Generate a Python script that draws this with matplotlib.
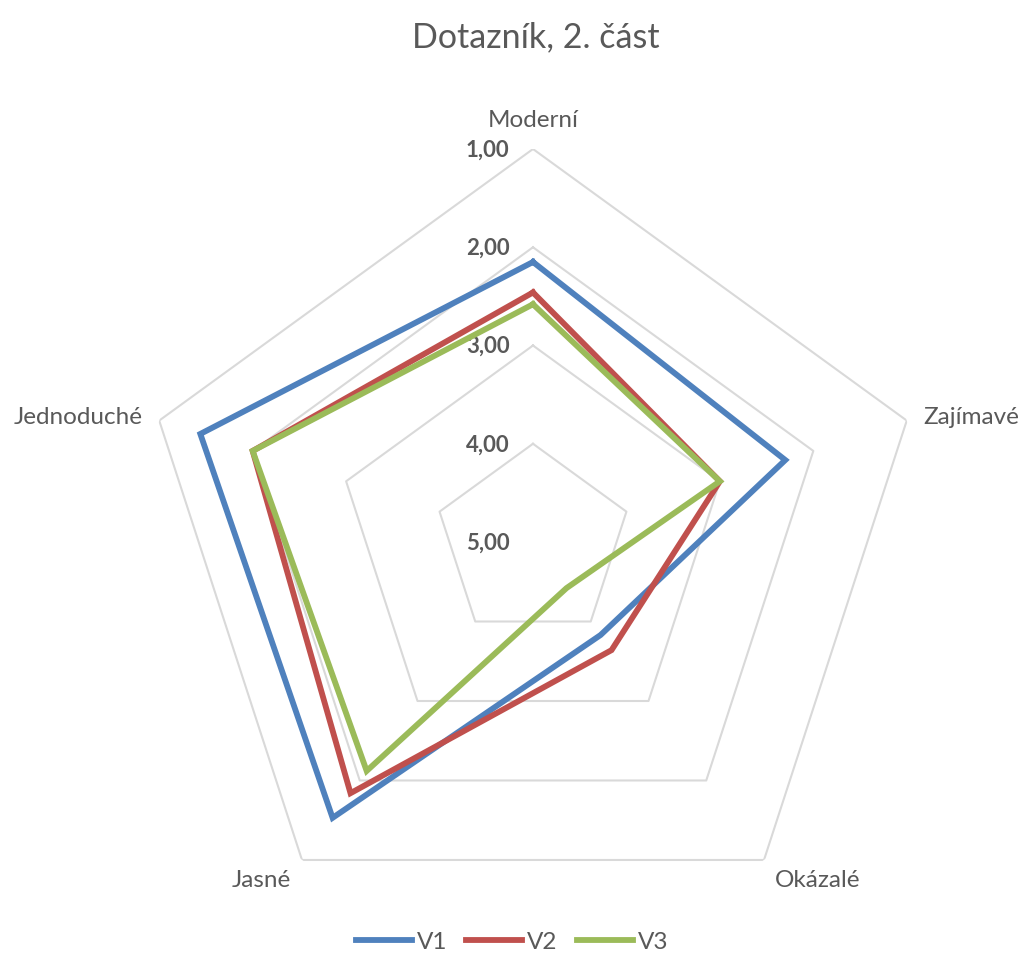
import numpy as np
import matplotlib.pyplot as plt

plt.rcParams['font.family'] = ['Lato', 'DejaVu Sans']

categories = ["Moderní", "Zajímavé", "Okázalé", "Jasné", "Jednoduché"]
v1 = [2.15, 2.30, 3.83, 1.53, 1.44]
v2 = [2.46, 3.00, 3.64, 1.84, 2.00]
v3 = [2.58, 3.00, 4.42, 2.12, 2.00]
series = {"V1": v1, "V2": v2, "V3": v3}
colors = {"V1": "#4f81bd", "V2": "#c0504d", "V3": "#9bbb59"}
rings = [1, 2, 3, 4, 5]
ring_labels = ["1,00", "2,00", "3,00", "4,00", "5,00"]

n = len(categories)
theta = np.linspace(0, 2 * np.pi, n, endpoint=False)
theta_c = np.append(theta, theta[0])

fig = plt.figure(figsize=(10.24, 9.54), dpi=100)
ax = fig.add_axes([0.1367, 0.0188, 0.7676, 0.824], projection="polar")
ax.set_theta_offset(np.pi / 2)
ax.set_theta_direction(-1)
ax.set_rlim(5, 1)
ax.grid(False)
ax.set_xticks([])
ax.set_yticks([])
ax.spines["polar"].set_visible(False)
ax.patch.set_visible(False)

# pentagon grid
for r in rings:
    ax.plot(theta_c, [r] * (n + 1), color="#d9d9d9", lw=1.5, zorder=1)

for r, lbl in zip(rings, ring_labels):
    ax.annotate(lbl, (0, r), xytext=(-17, 0), textcoords="offset points",
                ha="right", va="center", fontsize=16, fontweight="bold",
                color="#595959")

for name, vals in series.items():
    ax.plot(theta_c, vals + vals[:1], color=colors[name], lw=4.2,
            solid_joinstyle="miter", label=name, zorder=3)

# category labels around the outer ring
offsets = [(0, 14, "center", "bottom"), (12, 3, "left", "center"),
           (8, -14, "left", "center"), (-8, -14, "right", "center"),
           (-12, 3, "right", "center")]
for t, cat, (dx, dy, ha, va) in zip(theta, categories, offsets):
    ax.annotate(cat, (t, 1), xytext=(dx, dy), textcoords="offset points",
                ha=ha, va=va, fontsize=17.5, color="#595959")

fig.suptitle("Dotazník, 2. část", x=0.523, y=0.978, fontsize=24.5,
             color="#595959")
fig.legend(loc="lower center", bbox_to_anchor=(0.5, -0.022), ncol=3,
           frameon=False, fontsize=17.5, handlelength=2.3, columnspacing=0.8,
           handletextpad=0.2, labelcolor="#595959")

fig.savefig("out.png", dpi=100)
